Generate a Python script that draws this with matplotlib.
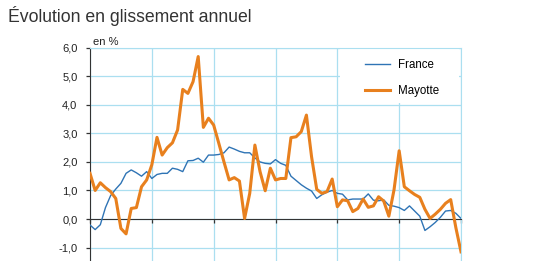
import numpy as np
import matplotlib
matplotlib.use('Agg')
import matplotlib.pyplot as plt
from matplotlib.patches import Rectangle

plt.rcParams['font.family'] = ['Liberation Sans', 'DejaVu Sans']

# monthly year-on-year change, in %
months = np.arange(73)
france = [-0.21, -0.37, -0.2, 0.4, 0.82, 1.05, 1.25, 1.6, 1.72, 1.62,
          1.5, 1.66, 1.42, 1.56, 1.6, 1.6, 1.78, 1.74, 1.66, 2.04,
          2.05, 2.13, 1.99, 2.24, 2.24, 2.26, 2.32, 2.52, 2.45, 2.37,
          2.32, 2.32, 2.14, 2.0, 1.95, 1.93, 2.08, 1.95, 1.88, 1.5,
          1.35, 1.2, 1.08, 0.98, 0.72, 0.85, 0.94, 1.0, 0.9, 0.87,
          0.67, 0.7, 0.7, 0.7, 0.88, 0.66, 0.64, 0.67, 0.48, 0.45,
          0.4, 0.3, 0.46, 0.28, 0.1, -0.4, -0.27, -0.12, 0.06, 0.28,
          0.3, 0.2, 0.02]
mayotte = [1.6, 1.0, 1.27, 1.1, 0.96, 0.72, -0.33, -0.52, 0.37, 0.4,
           1.13, 1.37, 1.9, 2.86, 2.24, 2.5, 2.67, 3.12, 4.54, 4.4,
           4.81, 5.69, 3.21, 3.53, 3.29, 2.65, 2.0, 1.37, 1.45, 1.33,
           0.02, 0.9, 2.59, 1.66, 0.99, 1.78, 1.37, 1.42, 1.42, 2.85,
           2.88, 3.06, 3.64, 2.18, 1.04, 0.9, 0.96, 1.4, 0.43, 0.67,
           0.64, 0.26, 0.37, 0.7, 0.41, 0.46, 0.78, 0.63, 0.1, 1.02,
           2.39, 1.13, 0.99, 0.86, 0.76, 0.34, 0.02, 0.17, 0.34, 0.55,
           0.68, -0.3, -1.15]
yticks = [-1, 0, 1, 2, 3, 4, 5, 6]
ytick_labels = ['-1,0', '0,0', '1,0', '2,0', '3,0', '4,0', '5,0', '6,0']

grid_col = '#abdff0'
axis_col = '#333333'

fig = plt.figure(figsize=(5.33, 2.61), dpi=100)
ax = fig.add_axes([90/533, 0, 371/533, 213.3/261])

ax.plot(months, france, color='#2f74b5', lw=1.0, label='France', zorder=3)
ax.plot(months, mayotte, color='#e8801e', lw=2.2, label='Mayotte', zorder=4)

ax.set_xlim(0, 72)
ax.set_ylim(-1.47, 6.0)
ax.set_yticks(yticks)
ax.set_yticklabels(ytick_labels)
ax.set_xticks(np.arange(0, 73, 12))
ax.set_xticklabels([])
ax.set_axisbelow(True)
ax.grid(True, color=grid_col, lw=0.9)

ax.spines['top'].set_color(grid_col)
ax.spines['right'].set_color(grid_col)
ax.spines['left'].set_color(axis_col)
ax.spines['bottom'].set_position(('data', 0))
ax.spines['bottom'].set_color(axis_col)
ax.spines['bottom'].set_zorder(2.6)
ax.tick_params(axis='y', length=3, width=0.9, color=axis_col, pad=6,
               labelsize=8, labelcolor='#222222')
ax.tick_params(axis='x', length=3, width=0.9, color=axis_col, direction='out')

# white area behind the legend
ax.add_patch(Rectangle((0.674, 0.741), 0.321, 0.257, transform=ax.transAxes,
                       facecolor='white', edgecolor='none', zorder=2.5))
ax.legend(loc='upper left', bbox_to_anchor=(0.741, 0.948), frameon=False,
          fontsize=8.3, handlelength=2.17, handletextpad=0.67,
          labelspacing=1.25, borderpad=0, borderaxespad=0)

fig.text(93/533, (261-42)/261, 'en %', fontsize=8, color='#222222', va='center')
fig.text(8/533, (261-21.7)/261, 'Évolution en glissement annuel',
         fontsize=12.7, color='#333333', va='baseline')

fig.savefig('out.png', dpi=100)
